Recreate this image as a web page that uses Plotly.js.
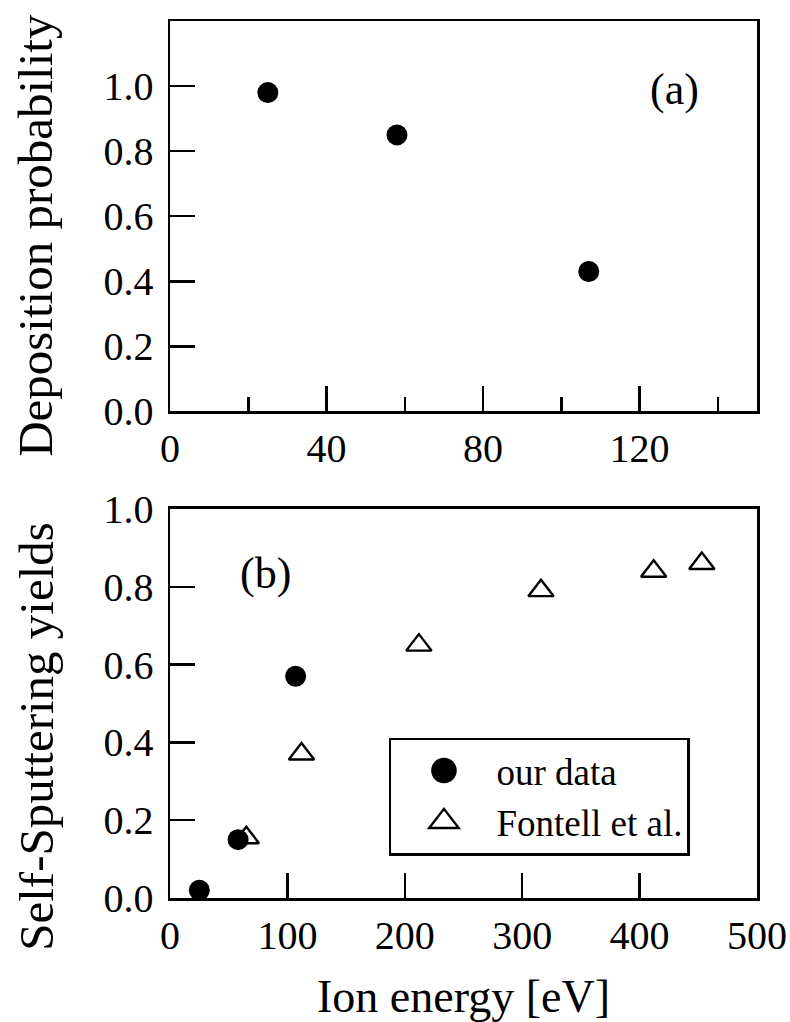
<!DOCTYPE html>
<html>
<head>
<meta charset="utf-8">
<script src="https://cdn.plot.ly/plotly-3.0.1.min.js"></script>
<style>
  html, body { margin: 0; padding: 0; background: #fff; }
  #chart { width: 790px; height: 1022px; }
</style>
</head>
<body>
<div id="chart"></div>
<script>
// ---- data ----
const energyA = [25, 58, 107];
const depositionProb = [0.98, 0.85, 0.43];

const energyOur = [25, 58, 107];
const yieldOur = [0.02, 0.15, 0.57];

const energyFontell = [65, 112, 212, 316, 412, 453];
const yieldFontell = [0.155, 0.37, 0.65, 0.79, 0.84, 0.86];

const yTicksA = [0, 0.2, 0.4, 0.6, 0.8, 1.0];
const yTickTextA = ['0.0', '0.2', '0.4', '0.6', '0.8', '1.0'];
const yTicksB = [0, 0.2, 0.4, 0.6, 0.8, 1.0];
const yTickTextB = ['0.0', '0.2', '0.4', '0.6', '0.8', '1.0'];
const xTicksA = [0, 40, 80, 120];
const xTicksB = [0, 100, 200, 300, 400, 500];

const labelA = '(a)';
const labelB = '(b)';
const titleYA = 'Deposition probability';
const titleYB = 'Self-Sputtering yields';
const titleX = 'Ion energy [eV]';
const nameOur = 'our data';
const nameFontell = 'Fontell et al.';

// ---- styling ----
const FONT = "'Liberation Serif', 'Times New Roman', serif";
const tickFont = {family: FONT, size: 40, color: '#000'};
const titleFont = {family: FONT, size: 49, color: '#000'};

const axisCommon = {
  showgrid: false, zeroline: false,
  showline: true, linecolor: '#000', linewidth: 2.5, mirror: true,
  ticks: 'inside', tickcolor: '#000', tickwidth: 2.5, ticklen: 25,
  tickfont: tickFont,
  fixedrange: true
};

const traces = [
  {
    x: energyA, y: depositionProb, xaxis: 'x', yaxis: 'y',
    type: 'scatter', mode: 'markers', name: nameOur, showlegend: false,
    marker: {symbol: 'circle', size: 21, color: '#000'}
  },
  {
    x: energyOur, y: yieldOur, xaxis: 'x2', yaxis: 'y2',
    type: 'scatter', mode: 'markers', name: nameOur,
    marker: {symbol: 'circle', size: 21, color: '#000'}
  },
  {
    x: energyFontell, y: yieldFontell, xaxis: 'x2', yaxis: 'y2',
    type: 'scatter', mode: 'markers', name: nameFontell,
    marker: {symbol: 'triangle-up-open', size: 22, color: '#000', line: {color: '#000', width: 2.4}}
  }
];

const layout = {
  width: 790, height: 1022,
  margin: {l: 170, r: 33, t: 21, b: 124, pad: 0},
  paper_bgcolor: '#fff', plot_bgcolor: '#fff',
  font: {family: FONT, color: '#000'},
  showlegend: true,
  legend: {
    x: 0.373, y: 0.183, xanchor: 'left', yanchor: 'top',
    bgcolor: '#fff', bordercolor: '#000', borderwidth: 2.5,
    font: {family: FONT, size: 37, color: '#000'},
    itemwidth: 95, tracegroupgap: 4
  },
  xaxis: Object.assign({}, axisCommon, {
    domain: [0, 1], anchor: 'y', range: [0, 150],
    tickmode: 'array', tickvals: xTicksA, ticktext: xTicksA.map(String),
    ticklabelstandoff: 0,
    minor: {tickmode: 'linear', tick0: 0, dtick: 20, ticks: 'inside', ticklen: 14, tickwidth: 2.5, tickcolor: '#000', showgrid: false}
  }),
  yaxis: Object.assign({}, axisCommon, {
    domain: [0.5548, 1], anchor: 'x', range: [0, 1.2],
    tickmode: 'array', tickvals: yTicksA, ticktext: yTickTextA,
    ticklabelstandoff: 6
  }),
  xaxis2: Object.assign({}, axisCommon, {
    domain: [0, 1], anchor: 'y2', range: [0, 500],
    tickmode: 'array', tickvals: xTicksB, ticktext: xTicksB.map(String),
    ticklabelstandoff: 0,
    title: {text: titleX, font: {family: FONT, size: 46, color: '#000'}, standoff: 28}
  }),
  yaxis2: Object.assign({}, axisCommon, {
    domain: [0, 0.4436], anchor: 'x2', range: [0, 1.0],
    tickmode: 'array', tickvals: yTicksB, ticktext: yTickTextB,
    ticklabelstandoff: 6
  }),
  annotations: [
    // y-axis titles (placed as in the reference, slightly below the panel centres)
    {xref: 'paper', yref: 'paper', x: -0.228, y: 0.7552, text: titleYA, textangle: -90,
     showarrow: false, xanchor: 'center', yanchor: 'middle', font: titleFont},
    {xref: 'paper', yref: 'paper', x: -0.228, y: 0.184, text: titleYB, textangle: -90,
     showarrow: false, xanchor: 'center', yanchor: 'middle', font: titleFont},
    // panel labels
    {xref: 'x', yref: 'y', x: 129, y: 0.99, text: labelA, showarrow: false,
     xanchor: 'center', yanchor: 'middle', font: {family: FONT, size: 44, color: '#000'}},
    {xref: 'x2', yref: 'y2', x: 81.6, y: 0.834, text: labelB, showarrow: false,
     xanchor: 'center', yanchor: 'middle', font: {family: FONT, size: 44, color: '#000'}}
  ]
};

Plotly.newPlot('chart', traces, layout, {displayModeBar: false, staticPlot: true}).then(function (gd) {
  // enlarge the legend symbols (Plotly caps legend marker size at 16px)
  gd.querySelectorAll('.legend .legendpoints path.scatterpts').forEach(function (p) {
    const t = p.getAttribute('transform') || '';
    p.setAttribute('transform', t + ' scale(1.6)');
    p.style.vectorEffect = 'non-scaling-stroke';
  });
});
</script>
</body>
</html>
